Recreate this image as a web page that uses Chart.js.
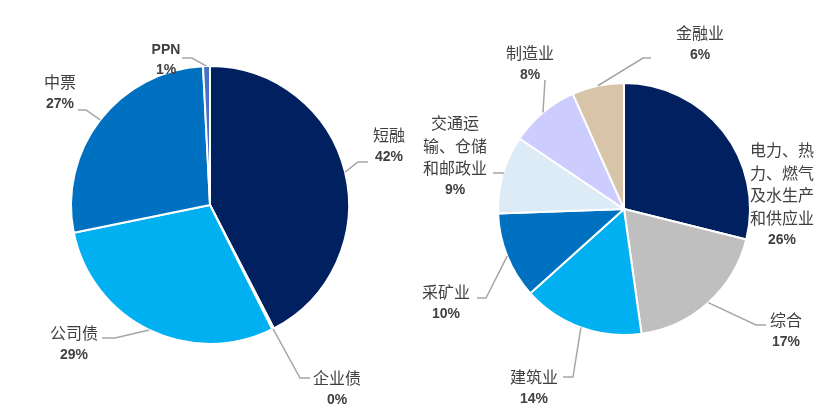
<!DOCTYPE html>
<html lang="zh">
<head>
<meta charset="utf-8">
<script src="https://cdn.jsdelivr.net/npm/chart.js@4"></script>
<style>
  body { margin: 0; background: #fff; }
  .wrap { position: absolute; top: 0; height: 413px; }
  #left { left: 0; width: 413px; }
  #right { left: 413px; width: 414px; }
</style>
</head>
<body>
<div class="wrap" id="left"><canvas id="typeChart"></canvas></div>
<div class="wrap" id="right"><canvas id="industryChart"></canvas></div>
<script>
// Répartition par type d'obligation (graphique de gauche)
const typeNames = ["短融", "企业债", "公司债", "中票", "PPN"];
const typeValues = [42.4, 0.2, 29.2, 27.4, 0.8];
const typeColors = ["#002060", "#2E75B6", "#00B0F0", "#0070C0", "#4472C4"];

// Répartition par secteur (graphique de droite)
const industryNames = ["电力、热\n力、燃气\n及水生产\n和供应业", "综合", "建筑业", "采矿业", "交通运\n输、仓储\n和邮政业", "制造业", "金融业"];
const industryValues = [26, 17, 14, 10, 9, 8, 6];
const industryColors = ["#002060", "#BFBFBF", "#00B0F0", "#0070C0", "#DDEBF7", "#CCCCFF", "#D8C5A9"];

// Position des étiquettes par rapport au centre du camembert
const typeLabelPos = [
  { x: 179, y: -70, lead: [[148, -43], [158, -43]] },
  { x: 127, y: 173, lead: [[90, 173], [100, 173]] },
  { x: -136, y: 128, lead: [[-95, 133], [-108, 133]] },
  { x: -150, y: -123, lead: [[-124, -95], [-132, -95]] },
  { x: -44, y: -155, lh: 20, lead: [[-18, -147], [-28, -147]] },
];
const industryLabelPos = [
  { x: 158, y: -59, lead: null },
  { x: 162, y: 111, lead: [[132, 116], [142, 116]] },
  { x: -90, y: 168, lead: [[-51, 168], [-61, 168]] },
  { x: -178, y: 83, lead: [[-138, 89], [-147, 89]] },
  { x: -169, y: -86, lead: [[-121, -36], [-131, -36]] },
  { x: -94, y: -156, lead: [[-79, -129], [-79, -129]] },
  { x: 76, y: -176, lead: [[19, -151], [27, -151]] },
];

// Plugin : étiquettes + lignes de rappel
const pieLabels = {
  id: "pieLabels",
  afterDraw(chart, args, opts) {
    const ctx = chart.ctx;
    const meta = chart.getDatasetMeta(0);
    const names = chart.data.labels;
    const values = chart.data.datasets[0].data;
    meta.data.forEach((arc, i) => {
      const pos = opts.pos[i];
      const cx = arc.x, cy = arc.y;
      const mid = (arc.startAngle + arc.endAngle) / 2;
      const r = arc.outerRadius;
      ctx.save();
      if (pos.lead) {
        ctx.strokeStyle = "#A6A6A6";
        ctx.lineWidth = 1.5;
        ctx.beginPath();
        ctx.moveTo(cx + r * Math.cos(mid), cy + r * Math.sin(mid));
        pos.lead.forEach((p) => ctx.lineTo(cx + p[0], cy + p[1]));
        ctx.stroke();
      }
      const lines = names[i].split("\n");
      const lh = pos.lh || 22.5;
      ctx.fillStyle = "#404040";
      ctx.textAlign = "center";
      ctx.textBaseline = "middle";
      const latin = /^[\x00-\x7f]+$/.test(names[i]);
      ctx.font = latin ? "bold 14px 'Liberation Sans'" : "16px 'Noto Sans CJK SC'";
      lines.forEach((t, k) => ctx.fillText(t, cx + pos.x, cy + pos.y + k * lh));
      ctx.font = "bold 14px 'Liberation Sans', 'Noto Sans CJK SC'";
      ctx.fillText(Math.round(values[i]) + "%", cx + pos.x, cy + pos.y + lines.length * lh);
      ctx.restore();
    });
  },
};

function makePie(id, names, values, colors, pos, padding) {
  new Chart(document.getElementById(id), {
    type: "pie",
    data: {
      labels: names,
      datasets: [
        {
          data: values,
          backgroundColor: colors,
          borderColor: "#ffffff",
          borderWidth: 2,
        },
      ],
    },
    options: {
      responsive: true,
      maintainAspectRatio: false,
      animation: false,
      layout: { padding: padding },
      plugins: {
        legend: { display: false },
        tooltip: { enabled: false },
        pieLabels: { pos: pos },
      },
    },
    plugins: [pieLabels],
  });
}

makePie("typeChart", typeNames, typeValues, typeColors, typeLabelPos,
  { left: 70, right: 63, top: 65, bottom: 68 });
makePie("industryChart", industryNames, industryValues, industryColors, industryLabelPos,
  { left: 84, right: 76, top: 82, bottom: 77 });
</script>
</body>
</html>
